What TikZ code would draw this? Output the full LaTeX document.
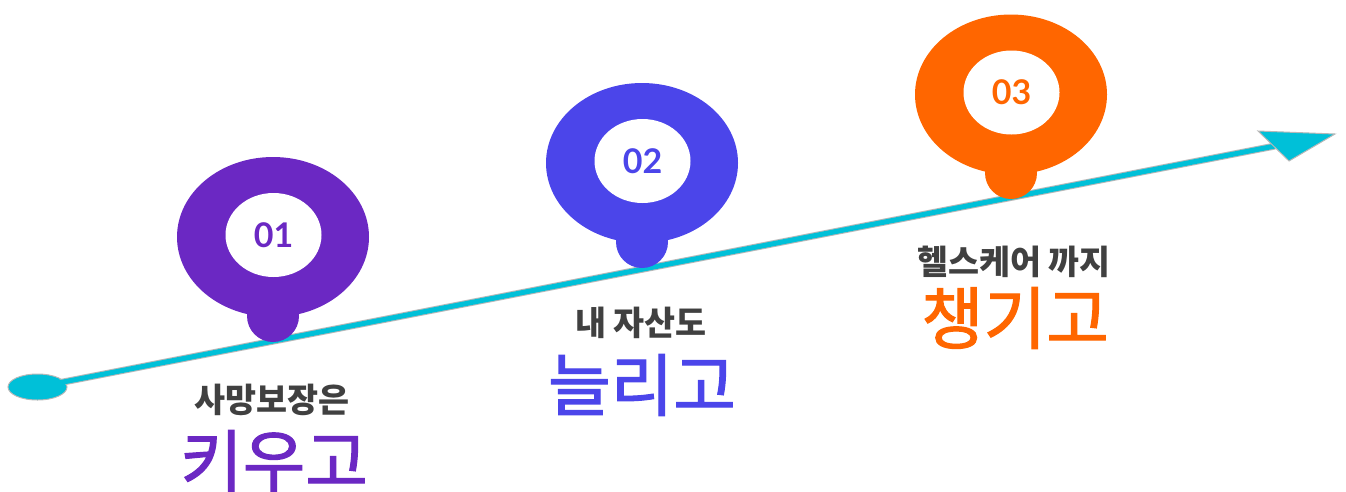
\documentclass[tikz,border=0pt]{standalone}
\usepackage{fontspec}
\setmainfont{Lato}
\newfontfamily\kr{Noto Sans CJK KR}
\newfontfamily\krm{Noto Sans CJK KR}[FakeBold=1.6]
\usetikzlibrary{shapes.geometric}
\definecolor{cpurple}{HTML}{6B28C3}
\definecolor{cblue}{HTML}{4B45EA}
\definecolor{corange}{HTML}{FF6600}
\definecolor{ccyan}{HTML}{00C0D8}
\definecolor{cgray}{HTML}{404040}
\definecolor{cedge}{HTML}{B8B8B8}
\tikzset{
  pinbig/.style={ellipse, minimum width=192pt, minimum height=160pt, inner sep=0pt, draw=none},
  pindot/.style={circle, minimum size=52pt, inner sep=0pt, draw=none},
  pininner/.style={ellipse, fill=white, minimum width=96pt, minimum height=84pt, inner sep=0pt,
     font=\fontsize{34}{40}\selectfont\bfseries},
  subtext/.style={inner sep=0pt, text=cgray, font=\kr\bfseries\fontsize{33.7}{40}\selectfont},
  bigtext/.style={inner sep=0pt, font=\krm\fontsize{68}{76}\selectfont},
}
\begin{document}
\begin{tikzpicture}[x=1pt,y=-1pt]
\useasboundingbox (0,0) rectangle (1346,491);
% timeline
\node[ellipse, fill=ccyan, draw=cedge, line width=1pt, minimum width=59pt, minimum height=26pt, inner sep=0pt] (start) at (37.5,387) {};
\coordinate (tip) at (1335,134);
\coordinate (shaftend) at (1275,146);
\draw[cedge, line width=7pt] (start.center) -- (shaftend);
\draw[ccyan, line width=5pt] (start.center) -- (shaftend);
\fill[ccyan, draw=cedge, line width=1pt] (tip) -- (1258,131) -- (1289,161) -- cycle;
\node[ellipse, fill=ccyan, minimum width=57pt, minimum height=24pt, inner sep=0pt] (startin) at (37.5,387) {};
% pin 1
\node[pindot, fill=cpurple] (d1) at (273,316) {};
\node[pinbig, fill=cpurple] (p1) at (273,237) {};
\node[pininner, text=cpurple] (n1) at (273.5,235) {01};
% pin 2
\node[pindot, fill=cblue] (d2) at (642,242) {};
\node[pinbig, fill=cblue] (p2) at (642,163) {};
\node[pininner, text=cblue] (n2) at (642.5,161) {02};
% pin 3
\node[pindot, fill=corange] (d3) at (1011,173) {};
\node[pinbig, fill=corange] (p3) at (1011,94.5) {};
\node[pininner, text=corange] (n3) at (1011.5,92.5) {03};
% texts
\node[subtext] (s1) at (272,400) {사망보장은};
\node[bigtext, text=cpurple] (b1) at (274,461) {키우고};
\node[subtext] (s2) at (641,323) {내 자산도};
\node[bigtext, text=cblue] (b2) at (642,385) {늘리고};
\node[subtext] (s3) at (1014,262) {헬스케어 까지};
\node[bigtext, text=corange] (b3) at (1015,318) {챙기고};
\end{tikzpicture}
\end{document}
